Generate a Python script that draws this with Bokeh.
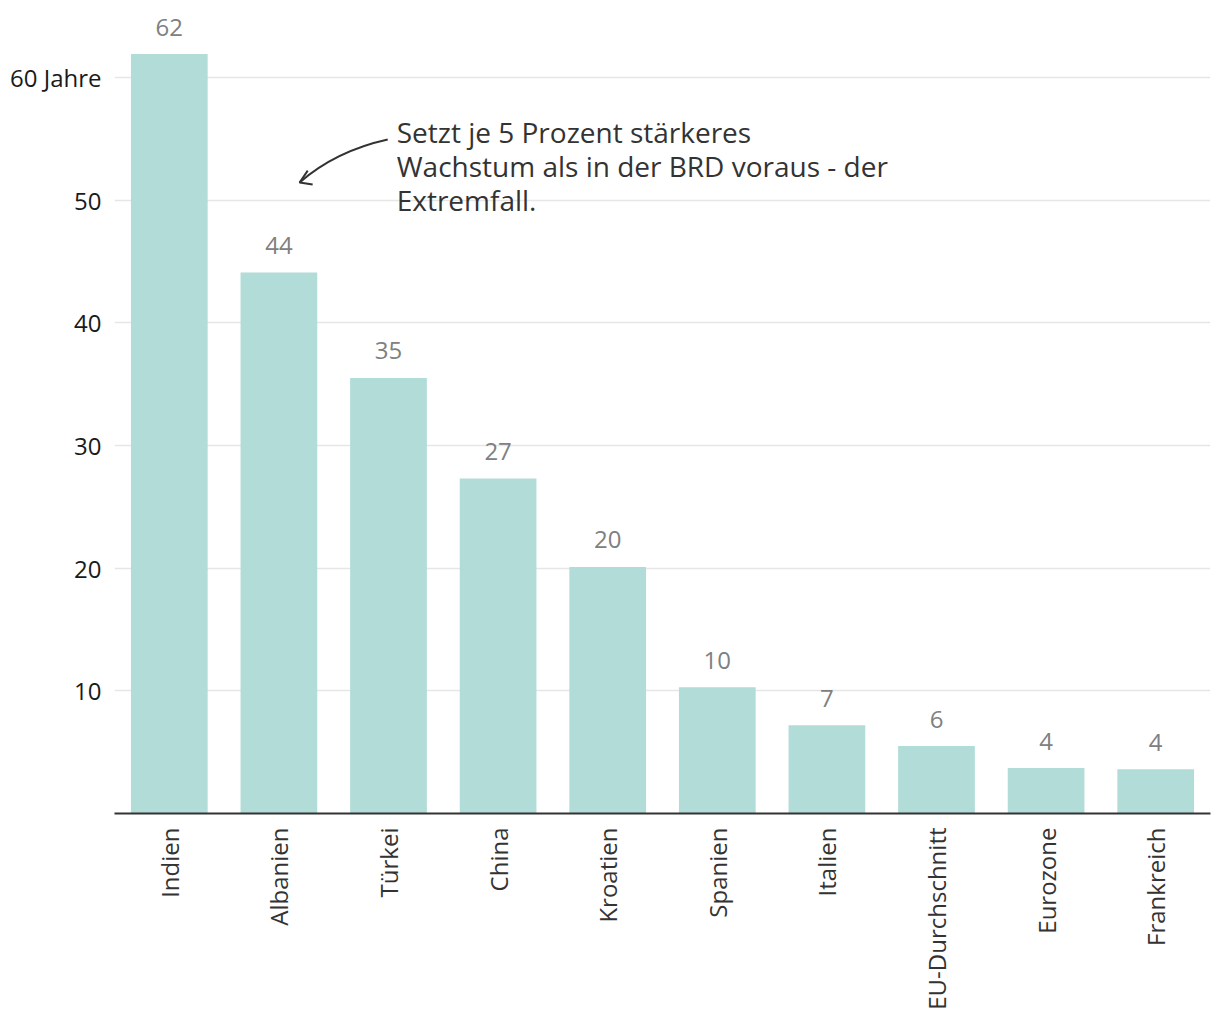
import math
from bokeh.plotting import figure
from bokeh.models import ColumnDataSource, FixedTicker, Range1d
from bokeh.core.properties import value
from bokeh.embed import file_html
from bokeh.resources import INLINE

categories = ["Indien", "Albanien", "Türkei", "China", "Kroatien", "Spanien",
              "Italien", "EU-Durchschnitt", "Eurozone", "Frankreich"]
values = [61.9, 44.1, 35.5, 27.3, 20.1, 10.3, 7.2, 5.5, 3.7, 3.6]
value_labels = ["62", "44", "35", "27", "20", "10", "7", "6", "4", "4"]
y_ticks = [10, 20, 30, 40, 50, 60]
y_tick_labels = {60: "60 Jahre"}
annotation_text = "Setzt je 5 Prozent stärkeres\nWachstum als in der BRD voraus - der\nExtremfall."

FONT = "Open Sans"
xs = list(range(len(categories)))
src = ColumnDataSource(dict(x=xs, top=values, lab=value_labels))

p = figure(width=1212, height=1018, output_backend="svg", toolbar_location=None,
           x_range=Range1d(-0.5, len(categories) - 0.5), y_range=Range1d(0, 65.45),
           min_border_left=114, min_border_right=2, min_border_top=10, min_border_bottom=205)
p.outline_line_color = None
p.background_fill_color = "white"
p.border_fill_color = "white"

p.vbar(x="x", top="top", width=0.7, bottom=0, source=src,
       fill_color="#b2dcd8", line_color=None)
p.text(x="x", y="top", text="lab", source=src, text_align="center",
       text_baseline="alphabetic", y_offset=-27, text_font=value(FONT),
       text_font_size="24px", text_color="#808080")

# y axis
p.yaxis.ticker = FixedTicker(ticks=y_ticks)
p.yaxis.major_label_overrides = y_tick_labels
p.yaxis.axis_line_color = None
p.yaxis.major_tick_line_color = None
p.yaxis.minor_tick_line_color = None
p.yaxis.major_tick_out = 0
p.yaxis.major_tick_in = 0
p.yaxis.major_label_standoff = 13
p.yaxis.major_label_text_font = FONT
p.yaxis.major_label_text_font_size = "24px"
p.yaxis.major_label_text_color = "#1a1a1a"
p.ygrid.ticker = FixedTicker(ticks=y_ticks)
p.ygrid.grid_line_color = "#e6e6e6"
p.ygrid.grid_line_width = 1.5
p.xgrid.grid_line_color = None

# x axis
p.xaxis.ticker = FixedTicker(ticks=xs)
p.xaxis.major_label_overrides = {i: c for i, c in enumerate(categories)}
p.xaxis.major_label_orientation = math.pi / 2
p.xaxis.axis_line_color = "#333333"
p.xaxis.axis_line_width = 2
p.xaxis.major_tick_line_color = None
p.xaxis.minor_tick_line_color = None
p.xaxis.major_tick_out = 0
p.xaxis.major_tick_in = 0
p.xaxis.major_label_standoff = 14
p.xaxis.major_label_text_font = FONT
p.xaxis.major_label_text_font_size = "24px"
p.xaxis.major_label_text_color = "#333333"

# annotation
p.text(x=[2.075], y=[57.13], text=[annotation_text], text_font=value(FONT),
       text_font_size="28px", text_color="#333333", text_baseline="top",
       text_align="left", text_line_height=0.9)
p.quadratic(x0=[1.993], y0=[54.93], x1=[1.189], y1=[51.43], cx=[1.52], cy=[54.0],
            line_color="#333333", line_width=2)
p.multi_line(xs=[[1.263, 1.189, 1.308]], ys=[[52.4, 51.43, 51.26]],
             line_color="#333333", line_width=2)

open("out.html", "w").write(file_html(p, INLINE))
